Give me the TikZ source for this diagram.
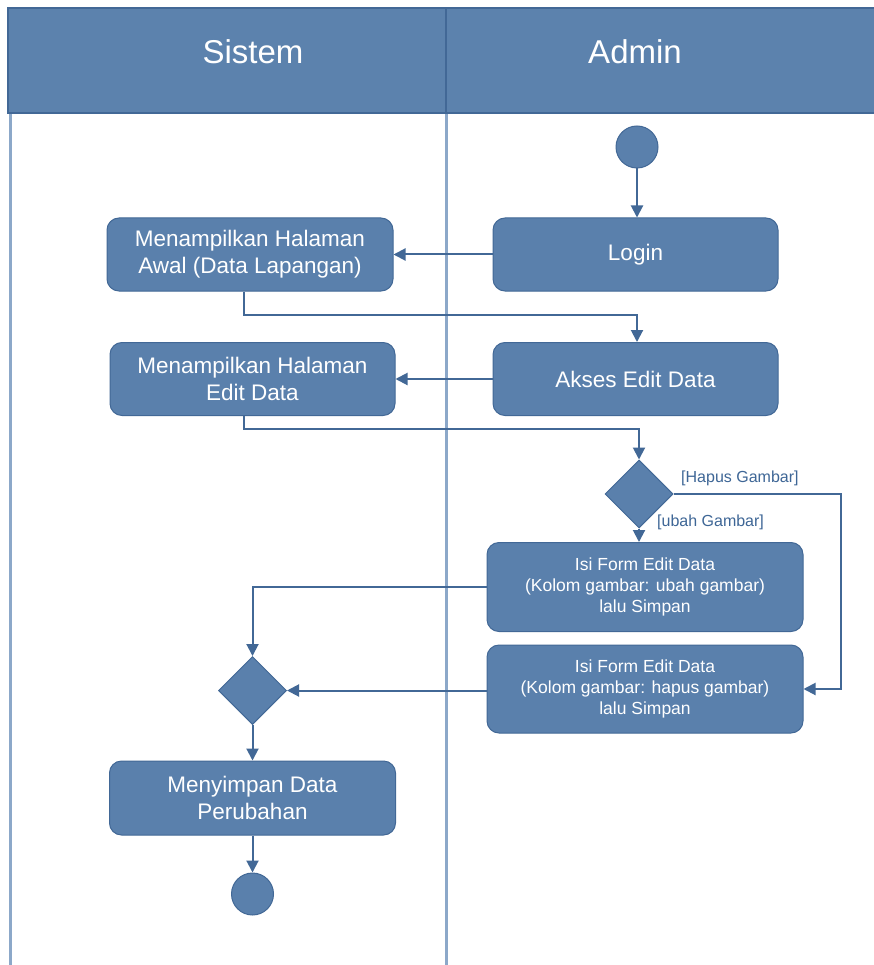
\documentclass[tikz,border=0pt]{standalone}
\usepackage{fontspec}
\setmainfont{Liberation Sans}
\usetikzlibrary{shapes.geometric,arrows.meta}

\definecolor{umlfill}{RGB}{90,128,172}
\definecolor{umlline}{RGB}{66,104,150}
\definecolor{lanefill}{RGB}{92,130,173}
\definecolor{laneline}{RGB}{140,168,201}
\definecolor{guardtext}{RGB}{62,102,150}

\tikzset{
  actbox/.style={draw=umlline, line width=1pt, fill=umlfill, rounded corners=12pt,
    inner sep=0pt, align=center, text=white, font=\fontsize{22.5}{27}\selectfont},
  formbox/.style={actbox, font=\fontsize{17.5}{21}\selectfont},
  decision/.style={diamond, draw=umlline, line width=1pt, fill=umlfill, inner sep=0pt,
    minimum width=68pt, minimum height=68pt},
  terminal/.style={circle, draw=umlline, line width=1pt, fill=umlfill, inner sep=0pt,
    minimum size=42pt},
  flow/.style={draw=umlline, line width=2pt,
    -{Triangle[length=12pt,width=12pt]}},
  guard/.style={text=guardtext, font=\fontsize{16}{19}\selectfont, inner sep=0pt, anchor=west},
  lanetitle/.style={text=white, font=\fontsize{33}{38}\selectfont},
}

\begin{document}
\begin{tikzpicture}[x=1pt, y=-1pt]
  \useasboundingbox (0,0) rectangle (874,965);
  \fill[white] (0,0) rectangle (874,965);

  % swimlane frame and headers
  \draw[laneline, line width=3pt] (10,113) -- (10,965);
  \draw[laneline, line width=3pt] (446,113) -- (446,965);
  \draw[umlline, line width=1.5pt, fill=lanefill] (8,8) rectangle (880,113);
  \draw[umlline, line width=1.5pt] (446,8) -- (446,113);
  \node[lanetitle] (lsistem) at (253,52) {Sistem};
  \node[lanetitle] (ladmin) at (635,52) {Admin};

  % activity nodes
  \node[terminal] (start) at (637,147) {};
  \node[actbox, minimum width=285pt, minimum height=73pt] (login) at (635.5,254.5) {Login};
  \node[actbox, minimum width=286pt, minimum height=73pt] (awal) at (250,254.5)
    {Menampilkan Halaman\\Awal (Data Lapangan)};
  \node[actbox, minimum width=285pt, minimum height=73pt] (akses) at (635.5,379) {Akses Edit Data};
  \node[actbox, minimum width=285pt, minimum height=73pt] (edit) at (252.5,379)
    {Menampilkan Halaman\\Edit Data};
  \node[decision] (dec1) at (639,494) {};
  \node[formbox, minimum width=316pt, minimum height=89pt] (form1) at (645,587)
    {Isi Form Edit Data\\(Kolom gambar: ubah gambar)\\lalu Simpan};
  \node[formbox, minimum width=316pt, minimum height=88pt] (form2) at (645,689)
    {Isi Form Edit Data\\(Kolom gambar: hapus gambar)\\lalu Simpan};
  \node[decision] (dec2) at (252.5,690.5) {};
  \node[actbox, minimum width=286pt, minimum height=74pt] (simpan) at (252.5,798)
    {Menyimpan Data\\Perubahan};
  \node[terminal] (end) at (252.5,894) {};

  % control flow
  \coordinate (c1) at (244,315);
  \coordinate (c2) at (244,429);
  \coordinate (c3) at (841,494);
  \draw[flow] (start) -- (start |- login.north);
  \draw[flow] (login.west) -- (awal.east);
  \draw[flow] (c1 |- awal.south) -- (c1) -| (akses.north -| start);
  \draw[flow] (akses.west) -- (edit.east);
  \draw[flow] (c2 |- edit.south) -- (c2) -| (dec1.north);
  \draw[flow] (dec1.south) -- (dec1.south |- form1.north);
  \draw[flow] (dec1.east) -- (c3) |- (form2.east);
  \draw[flow] (form1.west) -| (dec2.north);
  \draw[flow] (form2.west |- dec2.east) -- (dec2.east);
  \draw[flow] (dec2.south) -- (dec2.south |- simpan.north);
  \draw[flow] (simpan.south) -- (end.north);

  % guard labels
  \node[guard] (ghapus) at (681,478) {[Hapus Gambar]};
  \node[guard] (gubah) at (657,522) {[ubah Gambar]};
\end{tikzpicture}
\end{document}
